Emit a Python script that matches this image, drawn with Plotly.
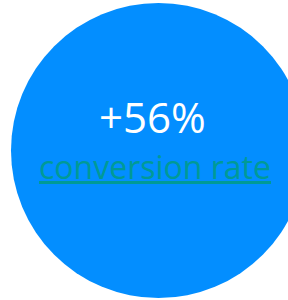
import plotly.graph_objects as go

metric_values = [56]
metric_labels = ["conversion rate"]

W, H = 288, 300
fig = go.Figure()

cx, cy, r = 158.5, 150.5, 147.5
fig.add_shape(type="circle", xref="x", yref="y",
              x0=cx - r, x1=cx + r, y0=H - (cy + r), y1=H - (cy - r),
              fillcolor="#038EFF", line=dict(width=0), layer="below")

fig.add_annotation(x=152, y=H - 116, xref="x", yref="y",
                   text="+%d%%" % metric_values[0], showarrow=False,
                   font=dict(family="Open Sans, sans-serif", size=42, color="white", weight=500))
fig.add_annotation(x=155, y=H - 166, xref="x", yref="y",
                   text=metric_labels[0], showarrow=False,
                   font=dict(family="Open Sans, sans-serif", size=32, color="#009A96", weight=500))
fig.add_shape(type="line", xref="x", yref="y", x0=39, x1=271, y0=H - 182.5, y1=H - 182.5,
              line=dict(color="#009A96", width=3))

fig.update_xaxes(range=[0, W], visible=False, fixedrange=True)
fig.update_yaxes(range=[0, H], visible=False, fixedrange=True)
fig.update_layout(width=W, height=H, margin=dict(l=0, r=0, t=0, b=0),
                  paper_bgcolor="white", plot_bgcolor="white", showlegend=False)
fig.write_html("out.html", config={"displayModeBar": False},
               post_script="document.body.style.margin='0';document.body.style.overflow='hidden';")
